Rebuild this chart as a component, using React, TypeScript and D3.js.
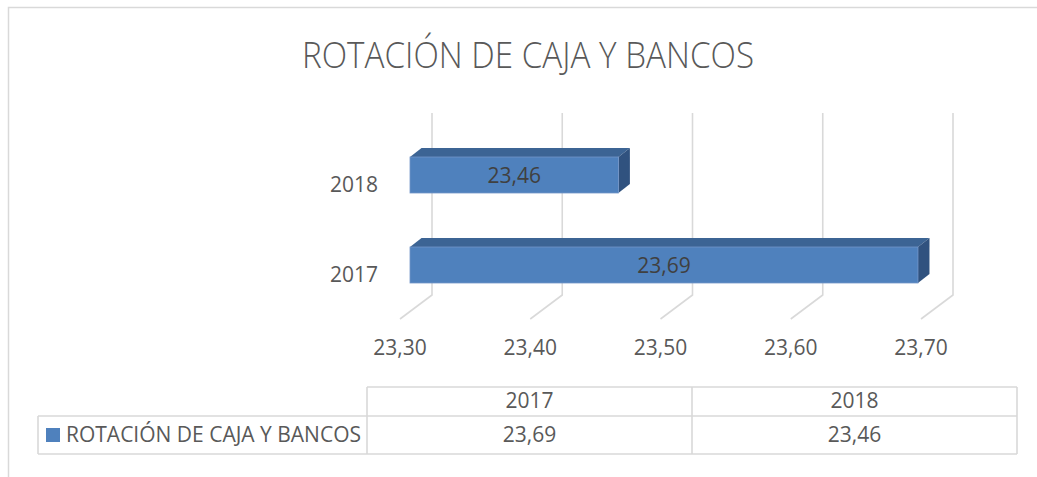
import React, { useEffect, useRef } from 'react';
import * as d3 from 'd3';

const chartTitle = 'ROTACIÓN DE CAJA Y BANCOS';
const seriesName = 'ROTACIÓN DE CAJA Y BANCOS';
const categories = ['2017', '2018'];
const values = [23.69, 23.46];
const xTicks = [23.3, 23.4, 23.5, 23.6, 23.7];

const esFormat = d3.formatLocale({ decimal: ',', thousands: '.', grouping: [3], currency: ['', ''] }).format('.2f');

const App = () => {
  const svgRef = useRef(null);

  useEffect(() => {
    const width = 1037;
    const height = 477;
    const font = '"Open Sans", sans-serif';
    const textColor = '#595959';
    const gridColor = '#D9D9D9';

    d3.select(svgRef.current).selectAll('*').remove();
    const svg = d3.select(svgRef.current)
      .attr('width', width)
      .attr('height', height)
      .attr('viewBox', `0 0 ${width} ${height}`);

    svg.append('rect').attr('width', width).attr('height', height).attr('fill', 'white');

    // chart area border (cut off at right and bottom)
    svg.append('rect')
      .attr('x', 8.5).attr('y', 7.5)
      .attr('width', 1040).attr('height', 480)
      .attr('fill', 'none')
      .attr('stroke', gridColor)
      .attr('stroke-width', 1.5);

    svg.append('text')
      .attr('x', 528)
      .attr('y', 68)
      .attr('text-anchor', 'middle')
      .attr('font-family', font)
      .attr('font-weight', 300)
      .attr('font-size', 36)
      .attr('textLength', 452)
      .attr('lengthAdjust', 'spacingAndGlyphs')
      .attr('fill', textColor)
      .text(chartTitle);

    // 3D geometry
    const x = d3.scaleLinear().domain([23.3, 23.7]).range([0, 521]);
    const backX = 432;
    const frontX = 410;
    const floorX = 400;
    const wallTop = 113;
    const wallBottom = 295;
    const floorFront = 319;
    const depth = { dx: 11.5, dy: -9 };

    const y = d3.scaleBand()
      .domain([...categories].reverse())
      .range([130, 310])
      .paddingInner(0.6)
      .paddingOuter(0.3);

    const grid = svg.append('g').attr('fill', 'none').attr('stroke', gridColor).attr('stroke-width', 1.6);
    xTicks.forEach(t => {
      const xb = backX + x(t);
      grid.append('path')
        .attr('d', `M${xb},${wallTop}L${xb},${wallBottom}L${floorX + x(t)},${floorFront}`);
    });

    svg.append('g')
      .selectAll('text')
      .data(xTicks)
      .join('text')
      .attr('x', d => floorX + x(d))
      .attr('y', 355)
      .attr('text-anchor', 'middle')
      .attr('font-family', font)
      .attr('font-size', 21)
      .attr('fill', textColor)
      .text(d => esFormat(d));

    svg.append('g')
      .selectAll('text')
      .data(categories)
      .join('text')
      .attr('x', 378)
      .attr('y', d => y(d) + y.bandwidth() / 2 + 16.5)
      .attr('text-anchor', 'end')
      .attr('font-family', font)
      .attr('font-size', 21)
      .attr('fill', textColor)
      .text(d => d);

    const bars = svg.append('g');
    categories.forEach((c, i) => {
      const v = values[i];
      const x0 = frontX + x(23.3);
      const x1 = frontX + x(v);
      const y0 = y(c);
      const h = y.bandwidth();
      bars.append('path')
        .attr('d', `M${x0},${y0}L${x0 + depth.dx},${y0 + depth.dy}L${x1 + depth.dx},${y0 + depth.dy}L${x1},${y0}Z`)
        .attr('fill', '#3C6494');
      bars.append('path')
        .attr('d', `M${x1},${y0}L${x1 + depth.dx},${y0 + depth.dy}L${x1 + depth.dx},${y0 + h + depth.dy}L${x1},${y0 + h}Z`)
        .attr('fill', '#30527F');
      bars.append('rect')
        .attr('x', x0).attr('y', y0)
        .attr('width', x1 - x0).attr('height', h)
        .attr('fill', '#4F81BD')
        .attr('stroke', '#7396C8')
        .attr('stroke-width', 0.8);
      bars.append('text')
        .attr('x', (x0 + x1) / 2)
        .attr('y', y0 + h / 2 + 7.5)
        .attr('text-anchor', 'middle')
        .attr('font-family', font)
        .attr('font-size', 21)
        .attr('fill', '#404040')
        .text(esFormat(v));
    });

    // data table
    const tLeft = 38;
    const colX = [367, 692, 1017];
    const rowY = [387, 416, 454];
    const table = svg.append('g').attr('stroke', gridColor).attr('stroke-width', 1.6).attr('fill', 'none');
    table.append('line').attr('x1', colX[0]).attr('x2', colX[2]).attr('y1', rowY[0]).attr('y2', rowY[0]);
    table.append('line').attr('x1', tLeft).attr('x2', colX[2]).attr('y1', rowY[1]).attr('y2', rowY[1]);
    table.append('line').attr('x1', tLeft).attr('x2', colX[2]).attr('y1', rowY[2]).attr('y2', rowY[2]);
    table.append('line').attr('x1', tLeft).attr('x2', tLeft).attr('y1', rowY[1]).attr('y2', rowY[2]);
    colX.forEach(cx => {
      table.append('line').attr('x1', cx).attr('x2', cx).attr('y1', rowY[0]).attr('y2', rowY[2]);
    });

    categories.forEach((c, i) => {
      const cx = (colX[i] + colX[i + 1]) / 2;
      svg.append('text')
        .attr('x', cx).attr('y', 408)
        .attr('text-anchor', 'middle')
        .attr('font-family', font).attr('font-size', 21)
        .attr('fill', textColor)
        .text(c);
      svg.append('text')
        .attr('x', cx).attr('y', 442)
        .attr('text-anchor', 'middle')
        .attr('font-family', font).attr('font-size', 21)
        .attr('fill', textColor)
        .text(esFormat(values[i]));
    });

    svg.append('rect')
      .attr('x', 46).attr('y', 428)
      .attr('width', 14).attr('height', 14)
      .attr('fill', '#4F81BD');
    svg.append('text')
      .attr('x', 66).attr('y', 442)
      .attr('font-family', font).attr('font-size', 21)
      .attr('fill', textColor)
      .text(seriesName);
  }, []);

  return (
    <div style={{ position: 'absolute', left: 0, top: 0, width: 1037, height: 477, background: 'white' }}>
      <svg ref={svgRef} style={{ display: 'block' }}></svg>
    </div>
  );
};

export default App;
